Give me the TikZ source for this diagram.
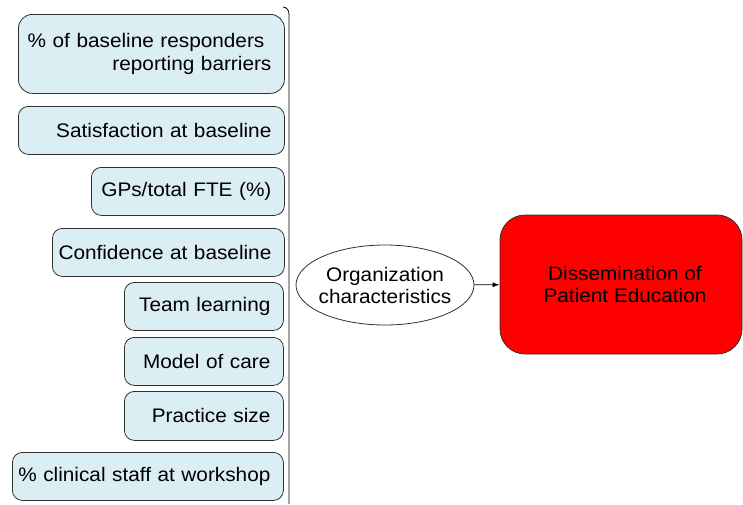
\documentclass[tikz,border=0pt]{standalone}
\usepackage{fontspec}
\setmainfont{Liberation Sans}[FakeStretch=1.06]
\usetikzlibrary{shapes.geometric,arrows.meta}
\definecolor{boxfill}{HTML}{DAEEF3}
\definecolor{boxline}{HTML}{303030}
\newcommand\rtext[1]{\makebox[\linewidth][r]{#1}}
\newcommand\ctext[1]{\makebox[0pt]{#1}}
\tikzset{
  factor/.style={draw=boxline, line width=0.8pt, fill=boxfill, rounded corners=10pt,
    anchor=north west, inner xsep=13pt, inner ysep=0pt, align=right,
    font=\fontsize{19.6}{23}\selectfont},
  lbl/.style={font=\fontsize{19.6}{22}\selectfont, align=center},
}
\begin{document}
\begin{tikzpicture}[x=1pt,y=-1pt]
\useasboundingbox (0,0) rectangle (743,504);
% factor boxes
\node[factor, rounded corners=14pt, minimum height=79pt, text width=240pt] (b1) at (18,14)
  {\rtext{\% of baseline responders\kern7pt}\\\rtext{reporting barriers}};
\node[factor, minimum height=48pt, text width=240pt] (b2) at (18,106) {\rtext{Satisfaction at baseline}};
\node[factor, minimum height=48pt, text width=167pt] (b3) at (91,167) {\rtext{GPs/total FTE (\%)}};
\node[factor, minimum height=48pt, text width=206pt] (b4) at (52,228) {\rtext{Confidence at baseline}};
\node[factor, minimum height=48pt, text width=133pt] (b5) at (124,282) {\rtext{Team learning}};
\node[factor, minimum height=48pt, text width=133pt] (b6) at (124,337) {\rtext{Model of care}};
\node[factor, minimum height=49pt, text width=133pt] (b7) at (124,391) {\rtext{Practice size}};
\node[factor, minimum height=48pt, text width=245pt] (b8) at (12,452) {\rtext{\% clinical staff at workshop}};
% bracket
\coordinate (brt) at (283,7);
\coordinate (brb) at (289,504);
\draw[line width=0.8pt, black] (brt) to[out=0,in=90] (289,14) -- (brb);
% ellipse
\node[ellipse, draw=boxline, line width=0.8pt, fill=white, minimum width=178pt, minimum height=80pt,
  inner sep=0pt, lbl] (org) at (385,285) {\ctext{Organization}\\\ctext{characteristics}};
% outcome
\node[draw=boxline, line width=0.8pt, fill=red, rounded corners=25pt, minimum width=242pt,
  minimum height=139pt, inner sep=0pt, lbl] (out) at (621,284.5) {\ctext{\hspace*{8pt}Dissemination of}\\\ctext{\hspace*{8pt}Patient Education}};
\draw[line width=0.8pt, -{Latex[length=7pt,width=5pt]}] (org) -- (out);
\end{tikzpicture}
\end{document}
